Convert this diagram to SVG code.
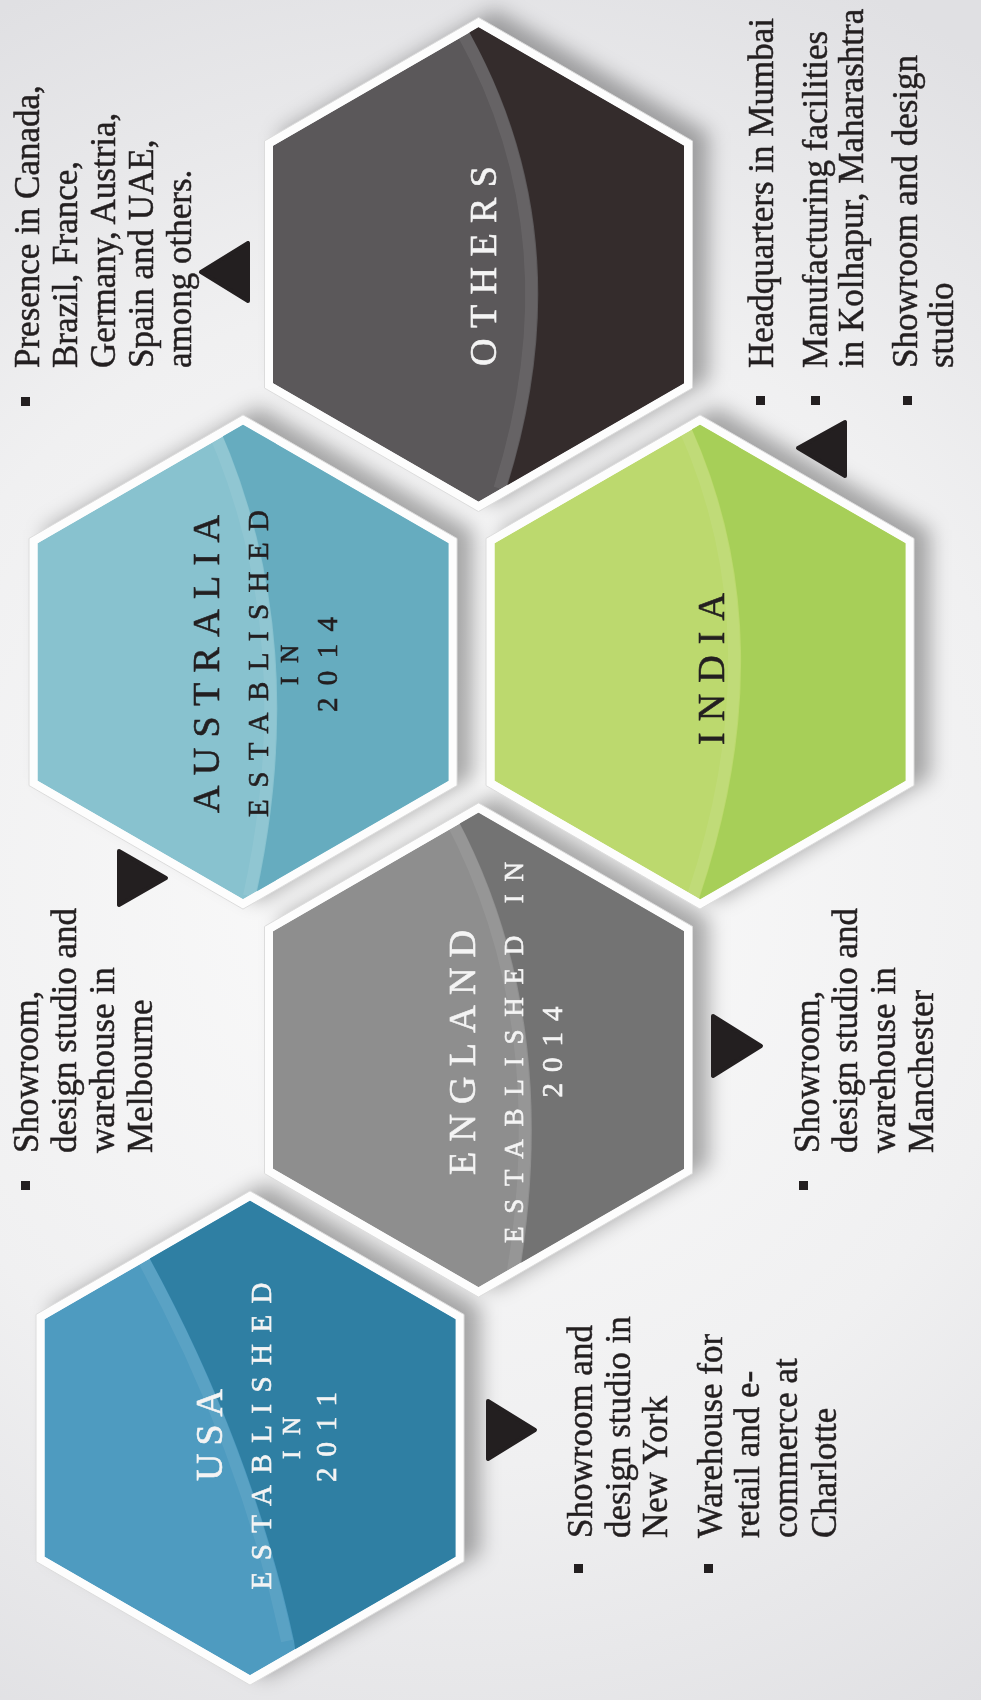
<svg xmlns="http://www.w3.org/2000/svg" width="981" height="1700" viewBox="0 0 981 1700">
<style>
.rim{fill:#fdfdfd;stroke:#dcdcdc;stroke-width:1}
.body{font-family:"Liberation Serif","Times New Roman",serif;font-size:35px;fill:#231f20;stroke:#231f20;stroke-width:0.5}
.title{font-family:"Liberation Serif","Times New Roman",serif;text-anchor:middle;stroke-width:0.6}
.light{fill:#f4f4f4;stroke:#f4f4f4}
.dark{fill:#231f20;stroke:#231f20}
.bullet{fill:#231f20}
.ptr{fill:#231f20;stroke:#231f20;stroke-width:4;stroke-linejoin:round}
.hl{fill:none;stroke:#fff;stroke-opacity:0.07;stroke-width:12}
</style>
<defs>
<radialGradient id="bg" cx="450" cy="880" r="980" gradientUnits="userSpaceOnUse">
<stop offset="0" stop-color="#fbfbfb"/>
<stop offset="0.6" stop-color="#f0f0f1"/>
<stop offset="1" stop-color="#e0e0e3"/>
</radialGradient>
<polygon id="hexOuter" points="0,-247.1 214,-123.55 214,123.55 0,247.1 -214,123.55 -214,-123.55"/>
<polygon id="hexInner" points="0,-237.3 205.5,-118.65 205.5,118.65 0,237.3 -205.5,118.65 -205.5,-118.65"/>
<clipPath id="clipHex"><use href="#hexInner"/></clipPath>
<filter id="blur" x="-30%" y="-30%" width="160%" height="160%"><feGaussianBlur stdDeviation="10"/></filter>
</defs>

<rect width="981" height="1700" fill="url(#bg)"/>

<g id="shadows" fill="#000" fill-opacity="0.32" filter="url(#blur)">
<use href="#hexOuter" transform="translate(494.5,256.5)"/>
<use href="#hexOuter" transform="translate(259,654)"/>
<use href="#hexOuter" transform="translate(716,654)"/>
<use href="#hexOuter" transform="translate(494.5,1042)"/>
<use href="#hexOuter" transform="translate(266,1430)"/>
</g>

<g id="node-others">
<g transform="translate(478.5,264.5)">
<use href="#hexOuter" class="rim"/>
<g clip-path="url(#clipHex)">
<use href="#hexInner" fill="#5b585a"/>
<path d="M -12,-262 L -9,-232 Q 106.5,-24 28,224 L 24,262 L 260,262 L 260,-262 Z" fill="#342c2c"/>
<path class="hl" d="M -9,-232 Q 106.5,-24 28,224" transform="translate(-7,0)"/>
</g>
</g>
<text class="title light" transform="rotate(-90)" x="-266" y="496" font-size="38" textLength="200" lengthAdjust="spacing">OTHERS</text>
</g>

<g id="node-australia">
<g transform="translate(243,662)">
<use href="#hexOuter" class="rim"/>
<g clip-path="url(#clipHex)">
<use href="#hexInner" fill="#88c2cf"/>
<path d="M -26,-262 L -24,-235 Q 69.5,-23.5 13,234 L 10,262 L 260,262 L 260,-262 Z" fill="#66acbf"/>
<path class="hl" d="M -24,-235 Q 69.5,-23.5 13,234" transform="translate(-7,0)"/>
</g>
</g>
<text class="title dark" transform="rotate(-90)" x="-664" y="219" font-size="38" textLength="298" lengthAdjust="spacing">AUSTRALIA</text>
<text class="title dark" transform="rotate(-90)" x="-663.5" y="268" font-size="29" textLength="307" lengthAdjust="spacing">ESTABLISHED</text>
<text class="title dark" transform="rotate(-90)" x="-665" y="298" font-size="25" textLength="40" lengthAdjust="spacing">IN</text>
<text class="title dark" transform="rotate(-90)" x="-664.5" y="337" font-size="29" textLength="95" lengthAdjust="spacing">2014</text>
</g>

<g id="node-india">
<g transform="translate(700,662)">
<use href="#hexOuter" class="rim"/>
<g clip-path="url(#clipHex)">
<use href="#hexInner" fill="#bcd96e"/>
<path d="M -12,-262 L -9,-235 Q 86.5,-23.5 0,234 L -4,262 L 260,262 L 260,-262 Z" fill="#a7cf58"/>
<path class="hl" d="M -9,-235 Q 86.5,-23.5 0,234" transform="translate(-7,0)"/>
</g>
</g>
<text class="title dark" transform="rotate(-90)" x="-669" y="724" font-size="38" textLength="152" lengthAdjust="spacing">INDIA</text>
</g>

<g id="node-england">
<g transform="translate(478.5,1050)">
<use href="#hexOuter" class="rim"/>
<g clip-path="url(#clipHex)">
<use href="#hexInner" fill="#8e8e8e"/>
<path d="M -26,-262 L -22,-233 Q 85,-32.5 40,230 L 36,262 L 260,262 L 260,-262 Z" fill="#737373"/>
<path class="hl" d="M -22,-233 Q 85,-32.5 40,230" transform="translate(-7,0)"/>
</g>
</g>
<text class="title light" transform="rotate(-90)" x="-1052.5" y="475" font-size="38" textLength="245" lengthAdjust="spacing">ENGLAND</text>
<text class="title light" transform="rotate(-90)" x="-1052.5" y="523" font-size="27" textLength="381" lengthAdjust="spacing">ESTABLISHED IN</text>
<text class="title light" transform="rotate(-90)" x="-1052" y="562" font-size="29" textLength="91" lengthAdjust="spacing">2014</text>
</g>

<g id="node-usa">
<g transform="translate(250,1438)">
<use href="#hexOuter" class="rim"/>
<g clip-path="url(#clipHex)">
<use href="#hexInner" fill="#4e9bc0"/>
<path d="M -120,-262 L -120,-215 L -100,-179 Q 2,8 44,203 L 52,262 L 260,262 L 260,-262 Z" fill="#2f7fa3"/>
<path class="hl" d="M -100,-179 Q 2,8 44,203" transform="translate(-7,0)"/>
</g>
</g>
<text class="title light" transform="rotate(-90)" x="-1435" y="222" font-size="38" textLength="92" lengthAdjust="spacing">USA</text>
<text class="title light" transform="rotate(-90)" x="-1436" y="271" font-size="29" textLength="307" lengthAdjust="spacing">ESTABLISHED</text>
<text class="title light" transform="rotate(-90)" x="-1438" y="300" font-size="25" textLength="42" lengthAdjust="spacing">IN</text>
<text class="title light" transform="rotate(-90)" x="-1437" y="336" font-size="29" textLength="90" lengthAdjust="spacing">2011</text>
</g>

<g id="note-others-left">
<rect class="bullet" x="21" y="397" width="9" height="9"/>
<text class="body" transform="rotate(-90)">
<tspan x="-368" y="39">Presence in Canada,</tspan>
<tspan x="-368" y="77">Brazil, France,</tspan>
<tspan x="-368" y="115">Germany, Austria,</tspan>
<tspan x="-368" y="153">Spain and UAE,</tspan>
<tspan x="-368" y="191">among others.</tspan>
</text>
</g>

<g id="note-india">
<rect class="bullet" x="756" y="396" width="9" height="9"/>
<rect class="bullet" x="811" y="396" width="9" height="9"/>
<rect class="bullet" x="903" y="396" width="9" height="9"/>
<text class="body" transform="rotate(-90)">
<tspan x="-368" y="773">Headquarters in Mumbai</tspan>
<tspan x="-368" y="827">Manufacturing facilities</tspan>
<tspan x="-368" y="863">in Kolhapur, Maharashtra</tspan>
<tspan x="-368" y="917">Showroom and design</tspan>
<tspan x="-368" y="953">studio</tspan>
</text>
</g>

<g id="note-australia">
<rect class="bullet" x="21" y="1181" width="9" height="9"/>
<text class="body" transform="rotate(-90)">
<tspan x="-1153" y="38">Showroom,</tspan>
<tspan x="-1153" y="76">design studio and</tspan>
<tspan x="-1153" y="114">warehouse in</tspan>
<tspan x="-1153" y="152">Melbourne</tspan>
</text>
</g>

<g id="note-england">
<rect class="bullet" x="799" y="1181" width="9" height="9"/>
<text class="body" transform="rotate(-90)">
<tspan x="-1153" y="819">Showroom,</tspan>
<tspan x="-1153" y="857">design studio and</tspan>
<tspan x="-1153" y="895">warehouse in</tspan>
<tspan x="-1153" y="933">Manchester</tspan>
</text>
</g>

<g id="note-usa">
<rect class="bullet" x="574" y="1564" width="9" height="9"/>
<rect class="bullet" x="704" y="1564" width="9" height="9"/>
<text class="body" transform="rotate(-90)">
<tspan x="-1538" y="592">Showroom and</tspan>
<tspan x="-1538" y="630">design studio in</tspan>
<tspan x="-1538" y="667">New York</tspan>
<tspan x="-1538" y="722">Warehouse for</tspan>
<tspan x="-1538" y="759">retail and e-</tspan>
<tspan x="-1538" y="797">commerce at</tspan>
<tspan x="-1538" y="836">Charlotte</tspan>
</text>
</g>

<g id="connectors">
<polygon class="ptr" points="201,272 248,243 248,301"/>
<polygon class="ptr" points="798,448 845,422 845,476"/>
<polygon class="ptr" points="119,851 166,878 119,905"/>
<polygon class="ptr" points="713,1016 761,1046 713,1076"/>
<polygon class="ptr" points="488,1401 535,1430 488,1459"/>
</g>
</svg>
